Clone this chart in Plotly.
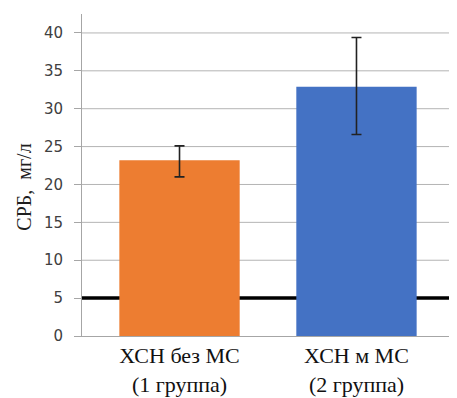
import plotly.graph_objects as go

categories = ["ХСН без МС<br>(1 группа)", "ХСН м МС<br>(2 группа)"]
crp_values = [23.2, 32.9]
err_plus = [1.9, 6.5]
err_minus = [2.2, 6.3]
bar_colors = ["#ED7D31", "#4472C4"]
norm_level = 5
y_ticks = [0, 5, 10, 15, 20, 25, 30, 35, 40]

fig = go.Figure()
fig.add_trace(go.Bar(
    x=[0, 1], y=crp_values,
    marker=dict(color=bar_colors, line=dict(width=0)),
    width=0.68,
    error_y=dict(type="data", symmetric=False, array=err_plus, arrayminus=err_minus,
                 color="#222222", thickness=1.6, width=5),
    showlegend=False,
))

# horizontal grid lines (drawn as shapes so the reference line can sit on top of them)
for t in y_ticks[1:]:
    fig.add_shape(type="line", xref="paper", x0=0, x1=1, yref="y", y0=t, y1=t,
                  line=dict(color="#b4b4b4", width=1), layer="below")

fig.add_shape(type="line", xref="paper", x0=0, x1=1, yref="y", y0=norm_level, y1=norm_level,
              line=dict(color="#000000", width=3.5), layer="below")

fig.add_annotation(
    text="СРБ,  мг/л",
    xref="paper", yref="paper", x=-0.157, y=0.461, textangle=-90,
    showarrow=False, xanchor="center", yanchor="middle",
    font=dict(family="Liberation Serif", size=20, color="#1f1f1f"),
)

fig.update_layout(
    width=449, height=390,
    margin=dict(l=74, r=0, t=6, b=62),
    paper_bgcolor="white", plot_bgcolor="white",
    bargap=0.32,
)
fig.update_xaxes(
    range=[-0.551, 1.568],
    tickmode="array", tickvals=[0, 1], ticktext=categories,
    tickfont=dict(family="Liberation Serif", size=22, color="#111111"),
    showline=True, linecolor="#a6a6a6", linewidth=1,
    ticks="", showgrid=False, zeroline=False, automargin=False,
)
fig.update_yaxes(
    range=[0, 42.5],
    tickmode="array", tickvals=y_ticks,
    tickfont=dict(family="DejaVu Sans", size=15, color="#404040"),
    ticklabelstandoff=8,
    showline=True, linecolor="#a6a6a6", linewidth=1,
    ticks="outside", ticklen=7, tickcolor="#a6a6a6",
    showgrid=False, zeroline=False, automargin=False,
)

fig.write_html("out.html")
